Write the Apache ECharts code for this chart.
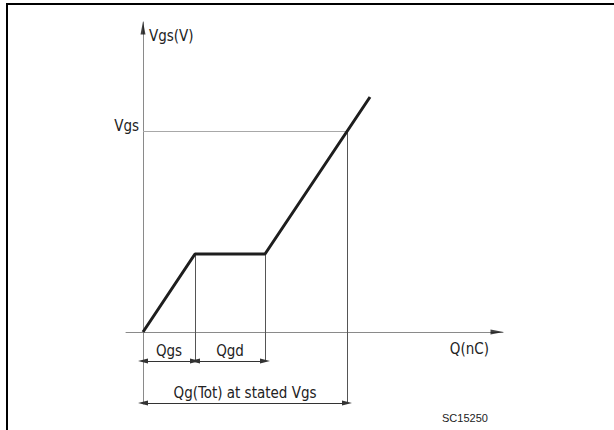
<!DOCTYPE html>
<html>
<head>
<meta charset="utf-8">
<script src="https://cdn.jsdelivr.net/npm/echarts@6/dist/echarts.min.js"></script>
<style>
  html, body { margin: 0; padding: 0; background: #fff; }
  #chart { width: 614px; height: 430px; }
</style>
</head>
<body>
<div id="chart"></div>
<script>
// gate charge curve, arbitrary units
const charge = [0, 5.2, 12.2, 22.7]
const gateVoltage = [0, 7.8, 7.8, 23.5]
const qgTot = 20.4
const vgsStated = 20.1
const dimLabels = ['Qgs', 'Qgd', 'Qg(Tot) at stated Vgs']

// axis extent (drawing units)
const xMin = -1.7, xMax = 36.0
const yMin = -7.2, yMax = 31.0
const dimNear = -2.9
const dimFar = -7.1

const font = '"DejaVu Sans Condensed", "DejaVu Sans", sans-serif'
const textColor = '#222'

const chart = echarts.init(document.getElementById('chart'), null, { renderer: 'svg' })

const qgs = charge[1]
const qgdEnd = charge[2]
const plateau = gateVoltage[1]

function guide(x1, y1, x2, y2, color) {
  return [
    { coord: [x1, y1], symbol: 'none', lineStyle: { color: color, width: 1, type: 'solid' } },
    { coord: [x2, y2], symbol: 'none' }
  ]
}

function dimension(x1, x2, y, text) {
  return [
    {
      coord: [x1, y], symbol: 'triangle', symbolSize: [5, 10],
      lineStyle: { color: '#333', width: 1, type: 'solid' },
      label: {
        show: true, position: 'middle', distance: 3, formatter: text,
        color: textColor, fontFamily: font, fontSize: 15
      }
    },
    { coord: [x2, y], symbol: 'triangle', symbolSize: [5, 10] }
  ]
}

const option = {
  animation: false,
  title: {
    text: 'SC15250',
    left: 442, top: 412, padding: 0,
    textStyle: { fontFamily: 'Liberation Sans, Arial', fontSize: 11, fontWeight: 'normal', color: '#222' }
  },
  graphic: [
    { type: 'line', shape: { x1: 7, y1: 3, x2: 7, y2: 430 }, style: { stroke: '#000', lineWidth: 2 } },
    { type: 'line', shape: { x1: 6, y1: 4, x2: 614, y2: 4 }, style: { stroke: '#000', lineWidth: 2 } }
  ],
  grid: { left: 126, right: 111, top: 22, bottom: 26 },
  xAxis: {
    type: 'value', min: xMin, max: xMax,
    name: 'Q(nC)', nameLocation: 'end', nameGap: -14,
    nameTextStyle: {
      align: 'right', verticalAlign: 'top', padding: [9, 0, 0, 0],
      color: textColor, fontFamily: font, fontSize: 15
    },
    axisLine: { onZero: true, lineStyle: { color: '#8a8a8a', width: 1 } },
    axisTick: { show: false },
    axisLabel: { show: false },
    splitLine: { show: false }
  },
  yAxis: {
    type: 'value', min: yMin, max: yMax,
    name: 'Vgs(V)', nameLocation: 'end', nameGap: -14,
    nameTextStyle: {
      align: 'left', verticalAlign: 'middle', padding: [0, 0, 0, 6],
      color: textColor, fontFamily: font, fontSize: 15
    },
    axisLine: { show: true, onZero: true, lineStyle: { color: '#8a8a8a', width: 1 } },
    axisTick: { show: false },
    axisLabel: {
      customValues: [vgsStated],
      formatter: () => 'Vgs',
      // labels stay at the grid edge, the axis line sits on x = 0
      margin: -13, align: 'right', verticalAlign: 'bottom', padding: [0, 0, -2, 0],
      color: textColor, fontFamily: font, fontSize: 15
    },
    splitLine: { show: false }
  },
  series: [
    {
      name: 'Vgs',
      type: 'line',
      data: charge.map((q, i) => [q, gateVoltage[i]]),
      symbol: 'none',
      lineStyle: { color: '#1e1e1e', width: 3 },
      z: 5,
      markLine: {
        silent: true,
        animation: false,
        label: { show: false },
        itemStyle: { color: '#111' },
        data: [
          guide(0, vgsStated, qgTot, vgsStated, '#a8a8a8'),
          guide(qgs, plateau, qgs, dimNear, '#555'),
          guide(qgdEnd, plateau, qgdEnd, dimNear, '#555'),
          guide(qgTot, vgsStated, qgTot, yMin, '#555'),
          dimension(0, qgs, dimNear, dimLabels[0]),
          dimension(qgs, qgdEnd, dimNear, dimLabels[1]),
          dimension(0, qgTot, dimFar, dimLabels[2])
        ]
      }
    },
    {
      name: 'axis arrows',
      type: 'scatter',
      silent: true,
      data: [
        { value: [xMax, 0], symbolRotate: -90, symbolOffset: [-6, 0] },
        { value: [0, yMax], symbolRotate: 0, symbolOffset: [0, 6] }
      ],
      symbol: 'triangle',
      symbolSize: [5, 13],
      itemStyle: { color: '#111' },
      z: 6
    }
  ]
}

chart.setOption(option)
</script>
</body>
</html>
